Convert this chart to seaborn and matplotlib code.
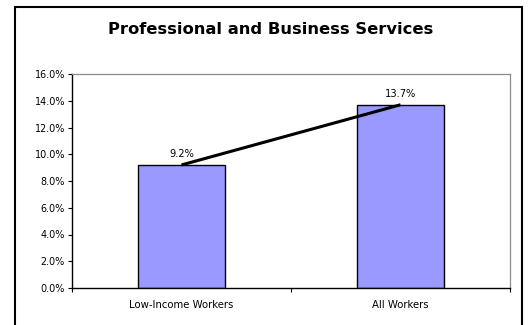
import matplotlib
matplotlib.use("Agg")
import matplotlib.pyplot as plt
from matplotlib.patches import Rectangle
from matplotlib.ticker import FixedLocator
import seaborn as sns
import pandas as pd

categories = ["Low-Income Workers", "All Workers"]
shares = [9.2, 13.7]
y_ticks = [0, 2, 4, 6, 8, 10, 12, 14, 16]
title = "Professional and Business Services"

sns.set_theme(style="white")
plt.rcParams["font.family"] = ["DejaVu Sans"]

df = pd.DataFrame({"group": categories, "share": shares})

fig = plt.figure(figsize=(5.28, 3.25), dpi=100)
fig.patch.set_facecolor("white")
ax = fig.add_axes([72 / 528, 1 - 288 / 325, (510 - 72) / 528, (288 - 74) / 325])

sns.barplot(data=df, x="group", y="share", color="#9999FF", saturation=1,
            edgecolor="black", linewidth=1.0, width=0.4, ax=ax, zorder=2)

# trend line connecting bar tops
ax.plot(range(len(shares)), shares, color="black", linewidth=2.2, zorder=3,
        solid_capstyle="butt")

for i, v in enumerate(shares):
    ax.text(i, v + 0.45, f"{v:.1f}%", ha="center", va="bottom", fontsize=7.1,
            color="black")

ax.set_xlim(-0.5, len(categories) - 0.5)
ax.set_ylim(0, 16)
ax.set_yticks(y_ticks)
ax.set_yticklabels([f"{t:.1f}%" for t in y_ticks], fontsize=6.9)
ax.set_xticks(range(len(categories)))
ax.set_xticklabels(categories, fontsize=7.3)
ax.xaxis.set_minor_locator(FixedLocator([-0.5, 0.5, 1.5]))
ax.tick_params(axis="x", which="major", length=0, pad=9, colors="black")
ax.tick_params(axis="x", which="minor", length=3, width=0.8, direction="out",
               color="black", bottom=True)
ax.tick_params(axis="y", length=3, width=0.8, direction="out", color="black",
               left=True, pad=2, labelcolor="black")
ax.set_xlabel("")
ax.set_ylabel("")

for side in ["left", "bottom"]:
    ax.spines[side].set_color("black")
    ax.spines[side].set_linewidth(1.0)
for side in ["top", "right"]:
    ax.spines[side].set_visible(True)
    ax.spines[side].set_color("#8c8c8c")
    ax.spines[side].set_linewidth(0.9)

fig.text(271 / 528, 1 - 29 / 325, title, ha="center", va="center",
         fontsize=11.8, fontweight="bold", color="black")

# chart frame
fig.patches.append(Rectangle((15 / 528, -0.05), (522 - 15) / 528, 1.05 - 7 / 325,
                             transform=fig.transFigure, fill=False,
                             edgecolor="black", linewidth=1.5))

fig.savefig("out.png", dpi=100)
